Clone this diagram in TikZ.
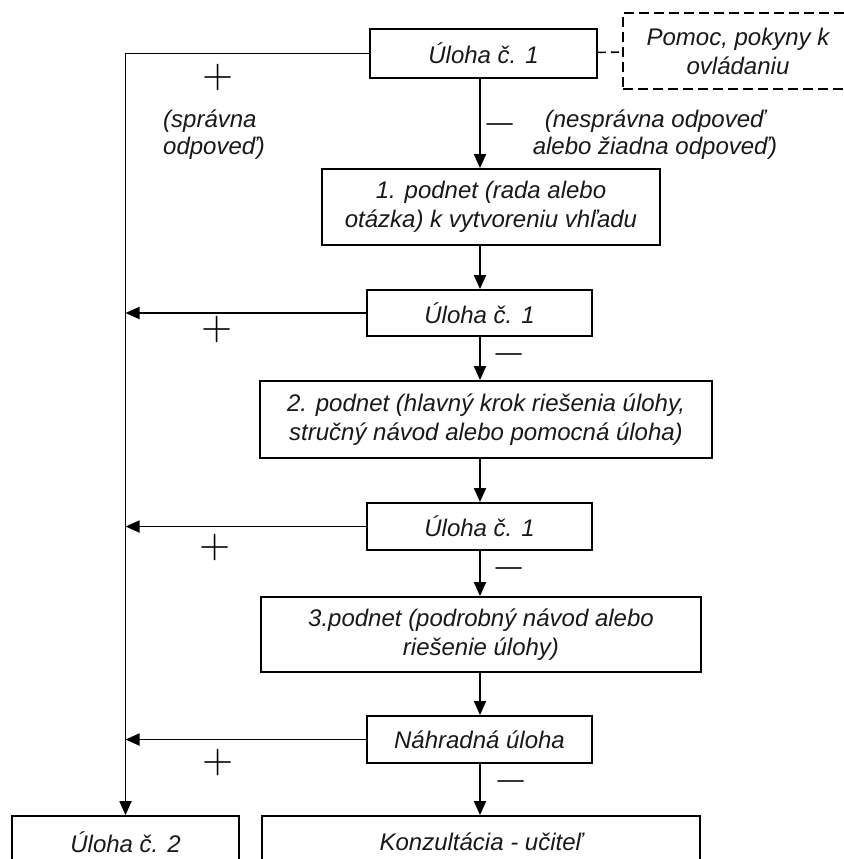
\documentclass[tikz,border=0pt]{standalone}
\usepackage{fontspec}
\usepackage{unicode-math}
\setmathfont{Latin Modern Math}
\newfontfamily\arialfont{Liberation Sans}
\usetikzlibrary{arrows.meta, positioning}

\begin{document}
\begin{tikzpicture}[x=1pt, y=-1pt,
      task/.style={rectangle, draw=black, line width=1.8pt, fill=white, text=black!90, minimum width=225pt, minimum height=47pt, inner sep=0pt, align=center, font=\arialfont\itshape\fontsize{24}{29}\selectfont},
      hint/.style={task, minimum height=76pt},
      help/.style={task, line width=1.6pt, dash pattern=on 10pt off 5pt, minimum width=230pt, minimum height=76pt},
      note/.style={inner sep=0pt, text=black!90, font=\arialfont\itshape\fontsize{24}{27}\selectfont},
      sign/.style={inner sep=0pt, font=\fontsize{40}{40}\selectfont},
      arrow/.style={-{Triangle[length=14pt, width=12pt]}, line width=1.8pt},
      link/.style={line width=1.6pt},
    ]
    \useasboundingbox (0,0) rectangle (843,859);
    \coordinate (col) at (480,0);

    \node[task, minimum width=227pt, minimum height=49pt] (u1) at (483.5,53.5) {Úloha č. 1};
    \node[help] (help) at (738,51) {Pomoc, pokyny k\\ovládaniu};
    \node[hint, minimum width=338pt] (p1) at (491,207) {1. podnet (rada alebo\\otázka) k vytvoreniu vhľadu};
    \node[task, minimum height=46pt] (u1b) at (479.5,313) {Úloha č. 1};
    \node[hint, minimum width=452pt, minimum height=77pt] (p2) at (486,419.5) {2. podnet (hlavný krok riešenia úlohy,\\stručný návod alebo pomocná úloha)};
    \node[task] (u1c) at (479.5,526.5) {Úloha č. 1};
    \node[hint, minimum width=440pt, minimum height=75pt] (p3) at (481,634.5) {3.podnet (podrobný návod alebo\\riešenie úlohy)};
    \node[task] (nahr) at (479.5,739.5) {Náhradná úloha};
    \node[task, minimum width=227pt, minimum height=52pt] (u2) at (125.5,842) {Úloha č. 2};
    \node[task, minimum width=438pt, minimum height=52pt] (konz) at (481,842) {Konzultácia - učiteľ};

    \node[note, anchor=west, align=left] (right) at (163,135) {(správna\\odpoveď)};
    \node[note, align=center] (wrong) at (655,135) {(nesprávna odpoveď\\alebo žiadna odpoveď)};

    \node[sign] (plus0) at (218,77) {$+$};
    \node[sign] (plus1) at (217,329) {$+$};
    \node[sign] (plus2) at (215,547) {$+$};
    \node[sign] (plus3) at (218,762) {$+$};
    \node[sign] (minus0) at (500,129) {$-$};
    \node[sign] (minus1) at (509,359) {$-$};
    \node[sign] (minus2) at (509,573) {$-$};
    \node[sign] (minus3) at (511,786) {$-$};

    \draw[link, dash pattern=on 8pt off 5pt] (u1) -- (help);
    \draw[arrow] (u1.west) -| (u2.north);
    \foreach \a/\b in {u1/p1, p1/u1b, u1b/p2, p2/u1c, u1c/p3, p3/nahr, nahr/konz}
      \draw[arrow] (\a.south -| col) -- (\b.north -| col);
    \foreach \a in {u1b, u1c, nahr}
      \draw[arrow] (\a.west) -- (\a.west -| u2.north);
  \end{tikzpicture}
\end{document}
